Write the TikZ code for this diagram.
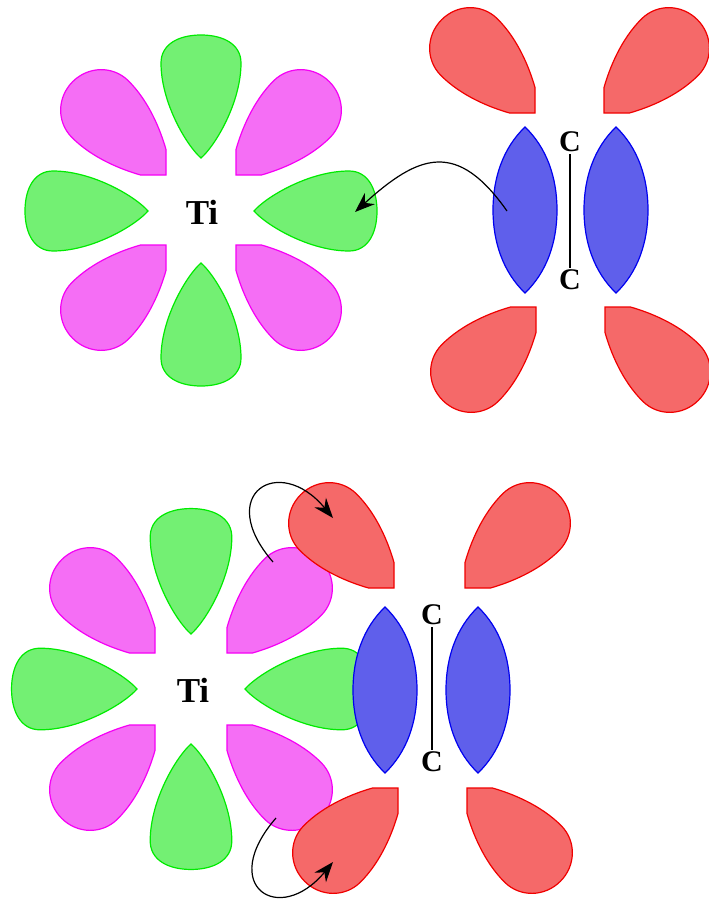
\documentclass[tikz,border=0pt]{standalone}
\usepackage{fontspec}
\setmainfont{Liberation Serif}
\usepackage{tikz}
\usetikzlibrary{arrows.meta}

\definecolor{dzline}{RGB}{0,235,0}
\definecolor{dzfill}{RGB}{115,240,115}
\definecolor{dxyline}{RGB}{245,0,245}
\definecolor{dxyfill}{RGB}{245,110,245}
\definecolor{chline}{RGB}{240,0,0}
\definecolor{chfill}{RGB}{245,105,105}
\definecolor{piline}{RGB}{0,0,240}
\definecolor{pifill}{RGB}{95,95,235}

\begin{document}
\begin{tikzpicture}[
    x=1pt, y=1pt,
    greenlobe/.style={draw=dzline, fill=dzfill, line width=1.2pt},
    pinklobe/.style={draw=dxyline, fill=dxyfill, line width=1.2pt},
    redlobe/.style={draw=chline, fill=chfill, line width=1.2pt},
    bluelobe/.style={draw=piline, fill=pifill, line width=1.2pt},
    atom/.style={font=\fontsize{35}{35}\selectfont\bfseries, inner sep=1pt},
    carbon/.style={font=\fontsize{30}{30}\selectfont\bfseries, inner sep=2pt},
    arrow/.style={-{Stealth[length=20pt, width=15pt]}, line width=1.2pt, black},
    petal/.pic={\path[#1] (0,0) .. controls (12,14) and (55,40) .. (95,40)
        .. controls (114,40) and (123,22) .. (123,0)
        .. controls (123,-22) and (114,-40) .. (95,-40)
        .. controls (55,-40) and (12,-14) .. cycle;},
    cutpetal/.pic={\path[#1] (0,0) -- (18,18) .. controls (36,28) and (64,40) .. (93,40)
        .. controls (115,40) and (132,22) .. (132,0)
        .. controls (132,-22) and (115,-40) .. (93,-40)
        .. controls (64,-40) and (36,-28) .. (18,-18) -- cycle;},
    lens/.pic={\path[#1] (0,83) .. controls (22,62) and (32,32) .. (32,0)
        .. controls (32,-32) and (22,-62) .. (0,-83)
        .. controls (-22,-62) and (-32,-32) .. (-32,0)
        .. controls (-32,32) and (-22,62) .. cycle;}
]
\useasboundingbox (0,0) rectangle (709,-899);

% --- Ti and the free alkene ---
\pic[rotate=90] at (201,-158) {petal=greenlobe};
\pic[rotate=180] at (148,-211) {petal=greenlobe};
\pic at (254,-211) {petal=greenlobe};
\pic[rotate=270] at (201,-263) {petal=greenlobe};
\pic[rotate=135] at (166,-175) {cutpetal=pinklobe};
\pic[rotate=45] at (236,-175) {cutpetal=pinklobe};
\pic[rotate=225] at (166,-245) {cutpetal=pinklobe};
\pic[rotate=315] at (236,-245) {cutpetal=pinklobe};
\node[atom] (ti1) at (202,-212) {Ti};

\pic[rotate=135] at (535,-113) {cutpetal=redlobe};
\pic[rotate=45] at (604,-113) {cutpetal=redlobe};
\pic[rotate=225] at (536,-307) {cutpetal=redlobe};
\pic[rotate=315] at (605,-307) {cutpetal=redlobe};
\pic at (525,-210) {lens=bluelobe};
\pic at (616,-210) {lens=bluelobe};
\node[carbon] (c1a) at (570,-142) {C};
\node[carbon] (c1b) at (570,-280) {C};
\draw[line width=1.1pt] (c1a) -- (c1b);

\coordinate (pi1) at (507,-211);
\coordinate (dz1) at (355,-212);
\draw[arrow] (pi1) .. controls (457,-140) and (419,-154) .. (dz1);

% --- Ti bound to the alkene ---
\pic[rotate=90, scale=1.02] at (191,-634) {petal=greenlobe};
\pic[rotate=180, scale=1.02] at (137,-689) {petal=greenlobe};
\pic[scale=1.02] at (245,-689) {petal=greenlobe};
\pic[rotate=270, scale=1.02] at (191,-744) {petal=greenlobe};
\pic[rotate=135] at (155,-653) {cutpetal=pinklobe};
\pic[rotate=45] at (227,-653) {cutpetal=pinklobe};
\pic[rotate=225] at (155,-725) {cutpetal=pinklobe};
\pic[rotate=315] at (227,-725) {cutpetal=pinklobe};
\node[atom] (ti2) at (193,-690) {Ti};

\pic[rotate=135] at (394,-588) {cutpetal=redlobe};
\pic[rotate=45] at (465,-588) {cutpetal=redlobe};
\pic[rotate=225] at (398,-788) {cutpetal=redlobe};
\pic[rotate=315] at (467,-788) {cutpetal=redlobe};
\pic at (385,-690) {lens=bluelobe};
\pic at (478,-690) {lens=bluelobe};
\node[carbon] (c2a) at (432,-615) {C};
\node[carbon] (c2b) at (432,-762) {C};
\draw[line width=1.1pt] (c2a) -- (c2b);

\coordinate (dxy1) at (273,-562);
\coordinate (ch1) at (333,-518);
\coordinate (dxy2) at (276,-818);
\coordinate (ch2) at (333,-862);
\draw[arrow] (dxy1) .. controls (214,-494) and (279,-453) .. (ch1);
\draw[arrow] (dxy2) .. controls (217,-886) and (279,-927) .. (ch2);

\end{tikzpicture}
\end{document}
